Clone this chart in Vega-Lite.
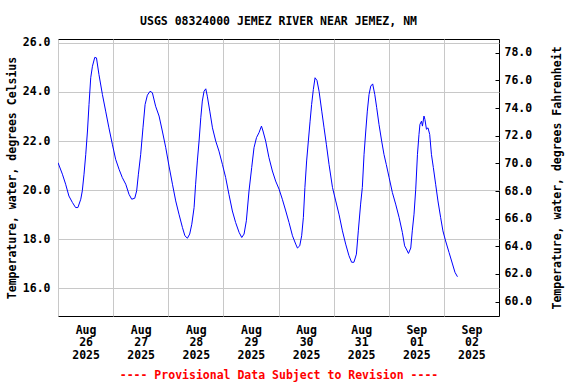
{
  "$schema": "https://vega.github.io/schema/vega-lite/v6.json",
  "width": 441,
  "height": 277,
  "autosize": {"type": "none"},
  "padding": {"left": 58, "top": 39, "right": 77, "bottom": 68},
  "background": "#ffffff",
  "config": {
    "font": "DejaVu Sans Mono",
    "view": {"stroke": "#000000", "strokeWidth": 1},
    "axis": {
      "labelFont": "DejaVu Sans Mono",
      "labelFontWeight": "bold",
      "labelFontSize": 11.5,
      "labelColor": "#000000",
      "titleFont": "DejaVu Sans Mono",
      "titleFontWeight": "bold",
      "titleFontSize": 11.5,
      "titleColor": "#000000",
      "gridColor": "#c8c8c8",
      "gridWidth": 1,
      "gridOpacity": 1
    }
  },
  "title": {
    "text": "USGS 08324000 JEMEZ RIVER NEAR JEMEZ, NM",
    "font": "DejaVu Sans Mono",
    "fontWeight": "bold",
    "fontSize": 11.5,
    "color": "#000000",
    "anchor": "middle",
    "frame": "group",
    "offset": 9
  },
  "data": {
    "values": [
      {"time": "2025-08-26T00:00:00", "temp_c": 21.12},
      {"time": "2025-08-26T01:55:00", "temp_c": 20.65},
      {"time": "2025-08-26T03:20:00", "temp_c": 20.24},
      {"time": "2025-08-26T04:45:00", "temp_c": 19.76},
      {"time": "2025-08-26T06:15:00", "temp_c": 19.5},
      {"time": "2025-08-26T07:40:00", "temp_c": 19.29},
      {"time": "2025-08-26T08:40:00", "temp_c": 19.29},
      {"time": "2025-08-26T09:55:00", "temp_c": 19.63},
      {"time": "2025-08-26T10:35:00", "temp_c": 19.97},
      {"time": "2025-08-26T11:20:00", "temp_c": 20.65},
      {"time": "2025-08-26T12:05:00", "temp_c": 21.46},
      {"time": "2025-08-26T12:50:00", "temp_c": 22.41},
      {"time": "2025-08-26T13:30:00", "temp_c": 23.49},
      {"time": "2025-08-26T14:15:00", "temp_c": 24.58},
      {"time": "2025-08-26T15:00:00", "temp_c": 25.05},
      {"time": "2025-08-26T16:00:00", "temp_c": 25.41},
      {"time": "2025-08-26T16:45:00", "temp_c": 25.39},
      {"time": "2025-08-26T17:50:00", "temp_c": 24.71},
      {"time": "2025-08-26T19:20:00", "temp_c": 23.9},
      {"time": "2025-08-26T20:45:00", "temp_c": 23.22},
      {"time": "2025-08-26T22:10:00", "temp_c": 22.54},
      {"time": "2025-08-26T23:40:00", "temp_c": 21.87},
      {"time": "2025-08-27T01:05:00", "temp_c": 21.26},
      {"time": "2025-08-27T02:35:00", "temp_c": 20.85},
      {"time": "2025-08-27T04:00:00", "temp_c": 20.51},
      {"time": "2025-08-27T05:30:00", "temp_c": 20.24},
      {"time": "2025-08-27T06:55:00", "temp_c": 19.83},
      {"time": "2025-08-27T08:05:00", "temp_c": 19.63},
      {"time": "2025-08-27T09:25:00", "temp_c": 19.67},
      {"time": "2025-08-27T10:15:00", "temp_c": 19.97},
      {"time": "2025-08-27T11:00:00", "temp_c": 20.65},
      {"time": "2025-08-27T12:00:00", "temp_c": 21.46},
      {"time": "2025-08-27T13:00:00", "temp_c": 22.54},
      {"time": "2025-08-27T13:55:00", "temp_c": 23.49},
      {"time": "2025-08-27T14:55:00", "temp_c": 23.87},
      {"time": "2025-08-27T16:05:00", "temp_c": 24.03},
      {"time": "2025-08-27T17:05:00", "temp_c": 23.97},
      {"time": "2025-08-27T18:30:00", "temp_c": 23.42},
      {"time": "2025-08-27T20:00:00", "temp_c": 23.02},
      {"time": "2025-08-27T21:25:00", "temp_c": 22.41},
      {"time": "2025-08-27T22:55:00", "temp_c": 21.73},
      {"time": "2025-08-28T00:20:00", "temp_c": 20.98},
      {"time": "2025-08-28T01:50:00", "temp_c": 20.24},
      {"time": "2025-08-28T03:15:00", "temp_c": 19.56},
      {"time": "2025-08-28T04:40:00", "temp_c": 19.02},
      {"time": "2025-08-28T06:10:00", "temp_c": 18.48},
      {"time": "2025-08-28T07:15:00", "temp_c": 18.14},
      {"time": "2025-08-28T08:20:00", "temp_c": 18.04},
      {"time": "2025-08-28T09:20:00", "temp_c": 18.21},
      {"time": "2025-08-28T10:15:00", "temp_c": 18.61},
      {"time": "2025-08-28T11:15:00", "temp_c": 19.29},
      {"time": "2025-08-28T11:55:00", "temp_c": 20.24},
      {"time": "2025-08-28T12:40:00", "temp_c": 21.19},
      {"time": "2025-08-28T13:25:00", "temp_c": 22.0},
      {"time": "2025-08-28T14:10:00", "temp_c": 22.95},
      {"time": "2025-08-28T14:50:00", "temp_c": 23.63},
      {"time": "2025-08-28T15:35:00", "temp_c": 24.03},
      {"time": "2025-08-28T16:20:00", "temp_c": 24.13},
      {"time": "2025-08-28T17:00:00", "temp_c": 23.83},
      {"time": "2025-08-28T18:05:00", "temp_c": 23.22},
      {"time": "2025-08-28T19:15:00", "temp_c": 22.54},
      {"time": "2025-08-28T20:40:00", "temp_c": 22.0},
      {"time": "2025-08-28T22:05:00", "temp_c": 21.59},
      {"time": "2025-08-28T23:35:00", "temp_c": 21.05},
      {"time": "2025-08-29T01:00:00", "temp_c": 20.51},
      {"time": "2025-08-29T02:25:00", "temp_c": 19.83},
      {"time": "2025-08-29T03:55:00", "temp_c": 19.15},
      {"time": "2025-08-29T05:20:00", "temp_c": 18.68},
      {"time": "2025-08-29T06:50:00", "temp_c": 18.28},
      {"time": "2025-08-29T08:00:00", "temp_c": 18.07},
      {"time": "2025-08-29T09:00:00", "temp_c": 18.21},
      {"time": "2025-08-29T10:00:00", "temp_c": 18.75},
      {"time": "2025-08-29T11:10:00", "temp_c": 19.97},
      {"time": "2025-08-29T12:20:00", "temp_c": 20.92},
      {"time": "2025-08-29T13:20:00", "temp_c": 21.73},
      {"time": "2025-08-29T14:25:00", "temp_c": 22.14},
      {"time": "2025-08-29T15:30:00", "temp_c": 22.34},
      {"time": "2025-08-29T16:35:00", "temp_c": 22.61},
      {"time": "2025-08-29T17:15:00", "temp_c": 22.41},
      {"time": "2025-08-29T18:25:00", "temp_c": 22.0},
      {"time": "2025-08-29T19:50:00", "temp_c": 21.33},
      {"time": "2025-08-29T21:20:00", "temp_c": 20.78},
      {"time": "2025-08-29T22:45:00", "temp_c": 20.37},
      {"time": "2025-08-30T00:15:00", "temp_c": 20.04},
      {"time": "2025-08-30T01:40:00", "temp_c": 19.63},
      {"time": "2025-08-30T03:10:00", "temp_c": 19.15},
      {"time": "2025-08-30T04:35:00", "temp_c": 18.68},
      {"time": "2025-08-30T06:05:00", "temp_c": 18.14},
      {"time": "2025-08-30T07:30:00", "temp_c": 17.8},
      {"time": "2025-08-30T08:15:00", "temp_c": 17.64},
      {"time": "2025-08-30T09:15:00", "temp_c": 17.73},
      {"time": "2025-08-30T10:05:00", "temp_c": 18.14},
      {"time": "2025-08-30T10:50:00", "temp_c": 18.89},
      {"time": "2025-08-30T11:30:00", "temp_c": 20.11},
      {"time": "2025-08-30T12:15:00", "temp_c": 21.19},
      {"time": "2025-08-30T13:00:00", "temp_c": 22.0},
      {"time": "2025-08-30T13:45:00", "temp_c": 22.81},
      {"time": "2025-08-30T14:25:00", "temp_c": 23.49},
      {"time": "2025-08-30T15:10:00", "temp_c": 24.1},
      {"time": "2025-08-30T15:55:00", "temp_c": 24.58},
      {"time": "2025-08-30T16:45:00", "temp_c": 24.47},
      {"time": "2025-08-30T17:40:00", "temp_c": 24.03},
      {"time": "2025-08-30T18:50:00", "temp_c": 23.22},
      {"time": "2025-08-30T19:50:00", "temp_c": 22.54},
      {"time": "2025-08-30T20:50:00", "temp_c": 21.87},
      {"time": "2025-08-30T22:00:00", "temp_c": 21.05},
      {"time": "2025-08-30T23:30:00", "temp_c": 20.11},
      {"time": "2025-08-31T00:55:00", "temp_c": 19.56},
      {"time": "2025-08-31T02:20:00", "temp_c": 19.02},
      {"time": "2025-08-31T03:50:00", "temp_c": 18.34},
      {"time": "2025-08-31T05:15:00", "temp_c": 17.8},
      {"time": "2025-08-31T06:40:00", "temp_c": 17.33},
      {"time": "2025-08-31T07:50:00", "temp_c": 17.06},
      {"time": "2025-08-31T08:50:00", "temp_c": 17.06},
      {"time": "2025-08-31T09:55:00", "temp_c": 17.39},
      {"time": "2025-08-31T10:45:00", "temp_c": 18.34},
      {"time": "2025-08-31T11:45:00", "temp_c": 19.43},
      {"time": "2025-08-31T12:30:00", "temp_c": 20.11},
      {"time": "2025-08-31T13:15:00", "temp_c": 21.46},
      {"time": "2025-08-31T14:00:00", "temp_c": 22.41},
      {"time": "2025-08-31T14:40:00", "temp_c": 23.22},
      {"time": "2025-08-31T15:25:00", "temp_c": 23.9},
      {"time": "2025-08-31T16:10:00", "temp_c": 24.24},
      {"time": "2025-08-31T17:00:00", "temp_c": 24.33},
      {"time": "2025-08-31T17:55:00", "temp_c": 23.9},
      {"time": "2025-08-31T18:45:00", "temp_c": 23.36},
      {"time": "2025-08-31T19:45:00", "temp_c": 22.68},
      {"time": "2025-08-31T20:55:00", "temp_c": 22.0},
      {"time": "2025-08-31T21:55:00", "temp_c": 21.46},
      {"time": "2025-08-31T22:55:00", "temp_c": 21.05},
      {"time": "2025-09-01T00:10:00", "temp_c": 20.51},
      {"time": "2025-09-01T01:35:00", "temp_c": 19.9},
      {"time": "2025-09-01T03:00:00", "temp_c": 19.43},
      {"time": "2025-09-01T04:30:00", "temp_c": 18.89},
      {"time": "2025-09-01T05:55:00", "temp_c": 18.28},
      {"time": "2025-09-01T06:55:00", "temp_c": 17.73},
      {"time": "2025-09-01T07:40:00", "temp_c": 17.6},
      {"time": "2025-09-01T08:35:00", "temp_c": 17.42},
      {"time": "2025-09-01T09:35:00", "temp_c": 17.64},
      {"time": "2025-09-01T10:15:00", "temp_c": 18.34},
      {"time": "2025-09-01T11:00:00", "temp_c": 19.02},
      {"time": "2025-09-01T11:45:00", "temp_c": 20.04},
      {"time": "2025-09-01T12:30:00", "temp_c": 21.46},
      {"time": "2025-09-01T13:10:00", "temp_c": 22.27},
      {"time": "2025-09-01T13:35:00", "temp_c": 22.68},
      {"time": "2025-09-01T14:15:00", "temp_c": 22.81},
      {"time": "2025-09-01T14:40:00", "temp_c": 22.61},
      {"time": "2025-09-01T15:20:00", "temp_c": 23.02},
      {"time": "2025-09-01T15:45:00", "temp_c": 22.88},
      {"time": "2025-09-01T16:25:00", "temp_c": 22.48},
      {"time": "2025-09-01T17:05:00", "temp_c": 22.54},
      {"time": "2025-09-01T17:50:00", "temp_c": 22.27},
      {"time": "2025-09-01T18:35:00", "temp_c": 21.46},
      {"time": "2025-09-01T19:25:00", "temp_c": 20.92},
      {"time": "2025-09-01T20:25:00", "temp_c": 20.24},
      {"time": "2025-09-01T21:25:00", "temp_c": 19.56},
      {"time": "2025-09-01T22:35:00", "temp_c": 18.89},
      {"time": "2025-09-01T23:35:00", "temp_c": 18.34},
      {"time": "2025-09-02T00:45:00", "temp_c": 17.93},
      {"time": "2025-09-02T02:15:00", "temp_c": 17.46},
      {"time": "2025-09-02T03:45:00", "temp_c": 16.99},
      {"time": "2025-09-02T04:50:00", "temp_c": 16.65},
      {"time": "2025-09-02T05:55:00", "temp_c": 16.47}
    ]
  },
  "layer": [
    {
      "mark": {"type": "line", "color": "#0000ff", "strokeWidth": 1, "clip": true},
      "encoding": {
        "x": {
          "field": "time",
          "type": "temporal",
          "scale": {
            "domain": [
              {"year": 2025, "month": 8, "date": 26},
              {"year": 2025, "month": 9, "date": 3}
            ]
          },
          "axis": {
            "title": "---- Provisional Data Subject to Revision ----",
            "titleColor": "#ff0000",
            "titlePadding": 9,
            "values": [
              {"year": 2025, "month": 8, "date": 26},
              {"year": 2025, "month": 8, "date": 27},
              {"year": 2025, "month": 8, "date": 28},
              {"year": 2025, "month": 8, "date": 29},
              {"year": 2025, "month": 8, "date": 30},
              {"year": 2025, "month": 8, "date": 31},
              {"year": 2025, "month": 9, "date": 1},
              {"year": 2025, "month": 9, "date": 2}
            ],
            "labelExpr": "[timeFormat(datum.value, '%b'), timeFormat(datum.value, '%d'), timeFormat(datum.value, '%Y')]",
            "labelOffset": 27.56,
            "labelAlign": "center",
            "labelBaseline": "top",
            "labelLineHeight": 12.7,
            "labelPadding": 8,
            "labelOverlap": false,
            "labelFlush": false,
            "ticks": false,
            "domain": false,
            "grid": true
          }
        },
        "y": {
          "field": "temp_c",
          "type": "quantitative",
          "scale": {"domain": [14.87, 26.16], "nice": false, "zero": false},
          "axis": {
            "title": "Temperature, water, degrees Celsius",
            "titlePadding": 5,
            "values": [16, 18, 20, 22, 24, 26],
            "format": ".1f",
            "ticks": false,
            "domain": false,
            "grid": true,
            "labelPadding": 8
          }
        }
      }
    },
    {
      "mark": {"type": "rule", "strokeOpacity": 0},
      "encoding": {
        "y": {
          "datum": 60,
          "type": "quantitative",
          "scale": {"domain": [58.96, 79.0], "nice": false, "zero": false},
          "axis": {
            "orient": "right",
            "title": "Temperature, water, degrees Fahrenheit",
            "titleAngle": 270,
            "titlePadding": 31,
            "values": [60, 62, 64, 66, 68, 70, 72, 74, 76, 78],
            "format": ".1f",
            "grid": false,
            "domain": false,
            "ticks": true,
            "tickSize": -4,
            "tickWidth": 1,
            "tickColor": "#000000",
            "labelPadding": 9
          }
        }
      }
    }
  ],
  "resolve": {"scale": {"y": "independent"}, "axis": {"y": "independent"}}
}
